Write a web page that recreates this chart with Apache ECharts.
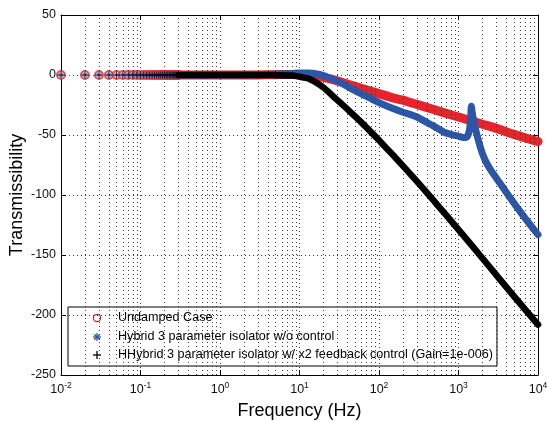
<!DOCTYPE html>
<html>
<head>
<meta charset="utf-8">
<script src="https://cdn.jsdelivr.net/npm/echarts@6/dist/echarts.min.js"></script>
<style>
html,body{margin:0;padding:0;background:#fff;}
#chart{width:547px;height:422px;}
</style>
</head>
<body>
<div id="chart"></div>
<script>
// ---------- data ----------
const seriesNames = [
  'Undamped Case',
  'Hybrid 3 parameter isolator w/o control',
  'HHybrid 3 parameter isolator w/ x2 feedback control (Gain=1e-006)'
];

// low-frequency sample points where individual markers are visible (Hz)
const lowFreq = [0.01,0.02,0.03,0.04,0.05,0.06,0.07,0.08,0.09,0.10,
                 0.11,0.12,0.13,0.14,0.15,0.16,0.17,0.18,0.19,0.20,
                 0.21,0.22,0.23,0.24,0.25,0.26,0.27,0.28,0.29,0.30];
const lowVal  = [0,0,0,0,0,0,0,0,0,0, 0,0,0,0,0,0,0,0,0,0, 0,0,0,0,0,0,0,0,0,0];

// Undamped case (red)
const redFreq = [0.3, 1, 3, 5, 8, 10, 13, 16, 20, 25, 32, 40, 50, 71, 100, 150, 200, 250, 300, 500, 700, 1000, 2000, 3000, 5000, 7000, 10000];
const redVal  = [0, 0, 0.1, 0.3, 0.5, 0.5, 0, -1, -2, -3.5, -5.5, -7.5, -9.5, -12.5, -15.5, -19, -21, -23, -24.5, -29, -32, -35, -41, -44.5, -49.5, -52.5, -55.5];

// Hybrid 3 parameter isolator w/o control (blue)
const blueFreq = [0.3, 1, 2, 3, 5, 8, 10, 13, 16, 20, 25, 32, 40, 50, 71, 100, 150, 200, 250, 300, 400, 500, 650, 800, 1000, 1150, 1250, 1320, 1380, 1420, 1450, 1490, 1550, 1650, 1780, 1900, 2000, 2200, 2500, 3000, 4170, 6000, 8700, 10000];
const blueVal  = [0, 0, 0.1, 0.3, 0.7, 1.3, 1.7, 1.6, 1, -0.5, -3, -6, -9.5, -13, -18, -23, -28, -31, -33, -35, -39.5, -43, -47.5, -49.5, -51, -52, -52, -50, -45, -37, -26, -31.5, -38, -46, -54.5, -61, -65.5, -72, -78.5, -86, -99.5, -114, -128, -133];

// HHybrid w/ x2 feedback control (black)
const blackFreq = [0.3, 1, 3, 5, 8, 10, 13, 16, 20, 30, 40, 50, 60, 80, 100, 150, 200, 300, 450, 700, 1000, 2000, 5000, 10000];
const blackVal  = [0, 0, 0, -0.1, -0.5, -1.5, -3, -6, -10.5, -21, -28.5, -34.5, -39.5, -47.8, -54.4, -66.7, -75.7, -88.7, -102, -116.8, -128.9, -152.7, -184.5, -208];

// axis settings
const yTicks = [-250, -200, -150, -100, -50, 0, 50];
const decades = [0.01, 0.1, 1, 10, 100, 1000];
const minorMult = [2, 3, 4, 5, 6, 7, 8, 9];

// ---------- build ----------
function pairs(xs, ys) { return xs.map((x, i) => [x, ys[i]]); }
const minorGrid = [];
decades.forEach(d => minorMult.forEach(m => minorGrid.push({ xAxis: +(d * m).toPrecision(3) })));

const FONT = '"Liberation Sans", Arial, sans-serif';
const RED = '#e8232b';
const BLUE = '#2c56a8';
const BLACK = '#000000';

const plusPath = 'path://M-0.9,-8 L0.9,-8 L0.9,8 L-0.9,8 Z M-8,-0.9 L8,-0.9 L8,0.9 L-8,0.9 Z';
const starPath = 'path://M-0.9,-8 L0.9,-8 L0.9,8 L-0.9,8 Z M-8,-0.9 L8,-0.9 L8,0.9 L-8,0.9 Z ' +
                 'M-6.4,-5 L-5,-6.4 L6.4,5 L5,6.4 Z M5,-6.4 L6.4,-5 L-5,6.4 L-6.4,5 Z';

const gridStyle = { color: '#3a3a3a', width: 1, type: [1, 3] };

const chart = echarts.init(document.getElementById('chart'), null, { renderer: 'canvas' });

const xLabel = {
  fontFamily: FONT, color: '#111', margin: 6,
  formatter: v => '{b|10}{e|' + Math.round(Math.log10(v)) + '}',
  rich: {
    b: { fontSize: 12.5, fontFamily: FONT, color: '#111' },
    e: { fontSize: 8.5, fontFamily: FONT, color: '#111', padding: [0, 0, 8, 0] }
  }
};

function seg(x1, y1, x2, y2, color) {
  return { type: 'line', shape: { x1: x1, y1: y1, x2: x2, y2: y2 }, style: { stroke: color, lineWidth: 1.3 } };
}

const option = {
  animation: false,
  backgroundColor: '#fff',
  grid: { left: 61, right: 9, top: 15, bottom: 47, show: false, containLabel: false, outerBoundsMode: 'none' },
  xAxis: [{
    type: 'log', logBase: 10, min: 0.01, max: 10000, splitNumber: 6,
    position: 'bottom',
    axisLine: { show: true, onZero: false, lineStyle: { color: '#000', width: 1 } },
    axisTick: { show: true, inside: true, length: 5, lineStyle: { color: '#000' } },
    axisLabel: xLabel,
    splitLine: { show: true, lineStyle: gridStyle },
    name: 'Frequency (Hz)', nameLocation: 'middle', nameGap: 27, nameMoveOverlap: false,
    nameTextStyle: { fontFamily: FONT, fontSize: 18, color: '#000' }
  }, {
    type: 'log', logBase: 10, min: 0.01, max: 10000, splitNumber: 6,
    position: 'top',
    axisLine: { show: true, onZero: false, lineStyle: { color: '#000', width: 1 } },
    axisTick: { show: true, inside: true, length: 5, lineStyle: { color: '#000' } },
    axisLabel: { show: false },
    splitLine: { show: false }
  }],
  yAxis: [{
    type: 'value', min: -250, max: 50, interval: 50,
    position: 'left',
    axisLine: { show: true, onZero: false, lineStyle: { color: '#000', width: 1 } },
    axisTick: { show: true, inside: true, length: 5, lineStyle: { color: '#000' } },
    axisLabel: { fontFamily: FONT, fontSize: 12.5, color: '#111', margin: 5,
      formatter: v => yTicks.indexOf(v) >= 0 ? String(v) : '' },
    splitLine: { show: true, lineStyle: gridStyle },
    name: 'Transmissibility', nameLocation: 'middle', nameGap: 35, nameMoveOverlap: false,
    nameTextStyle: { fontFamily: FONT, fontSize: 18, color: '#000' }
  }, {
    type: 'value', min: -250, max: 50, interval: 50,
    position: 'right',
    axisLine: { show: true, onZero: false, lineStyle: { color: '#000', width: 1 } },
    axisTick: { show: true, inside: true, length: 5, lineStyle: { color: '#000' } },
    axisLabel: { show: false },
    splitLine: { show: false }
  }],
  series: [
    {
      name: 'minorGrid', type: 'line', data: [], silent: true,
      markLine: { silent: true, symbol: 'none', label: { show: false },
        lineStyle: gridStyle, emphasis: { disabled: true }, data: minorGrid }
    },
    {
      name: 'redLine', type: 'line', data: pairs(redFreq, redVal),
      showSymbol: false, smooth: 0.25,
      lineStyle: { color: RED, width: 9, cap: 'round', join: 'round' }, z: 3
    },
    {
      name: seriesNames[0], type: 'scatter', data: pairs(lowFreq, lowVal),
      symbol: 'emptyCircle', symbolSize: 8,
      itemStyle: { color: RED, borderColor: RED, borderWidth: 1.3 }, z: 3
    },
    {
      name: 'blueLine', type: 'line', data: pairs(blueFreq, blueVal),
      showSymbol: false, smooth: 0.25,
      lineStyle: { color: BLUE, width: 7, cap: 'round', join: 'round' }, z: 4
    },
    {
      name: seriesNames[1], type: 'scatter', data: pairs(lowFreq, lowVal),
      symbol: starPath, symbolSize: 7,
      itemStyle: { color: BLUE }, z: 4
    },
    {
      name: 'blackLine', type: 'line', data: pairs(blackFreq, blackVal),
      showSymbol: false, smooth: 0.25,
      lineStyle: { color: BLACK, width: 6.5, cap: 'round', join: 'round' }, z: 5
    },
    {
      name: seriesNames[2], type: 'scatter', data: pairs(lowFreq, lowVal),
      symbol: plusPath, symbolSize: 7,
      itemStyle: { color: BLACK }, z: 5
    }
  ],
  graphic: [{
    type: 'group', x: 68, y: 307, z: 100,
    children: [
      { type: 'rect', shape: { x: 0, y: 0, width: 429, height: 59 },
        style: { fill: '#fff', stroke: '#000', lineWidth: 1 } },
      { type: 'circle', shape: { cx: 29, cy: 11, r: 3.6 },
        style: { fill: '#fff', stroke: '#d0202a', lineWidth: 1.2 } },
      seg(29, 26, 29, 34, BLUE), seg(25, 30, 33, 30, BLUE),
      seg(26.2, 27.2, 31.8, 32.8, BLUE), seg(31.8, 27.2, 26.2, 32.8, BLUE),
      seg(29, 44, 29, 52, BLACK), seg(25, 48, 33, 48, BLACK),
      { type: 'text', x: 50, y: 11, style: { text: seriesNames[0], font: '12.6px ' + FONT, fill: '#000', textVerticalAlign: 'middle' } },
      { type: 'text', x: 50, y: 30, style: { text: seriesNames[1], font: '12.6px ' + FONT, fill: '#000', textVerticalAlign: 'middle' } },
      { type: 'text', x: 50, y: 48, style: { text: seriesNames[2], font: '12.6px ' + FONT, fill: '#000', textVerticalAlign: 'middle' } }
    ]
  }]
};
chart.setOption(option);
</script>
</body>
</html>
